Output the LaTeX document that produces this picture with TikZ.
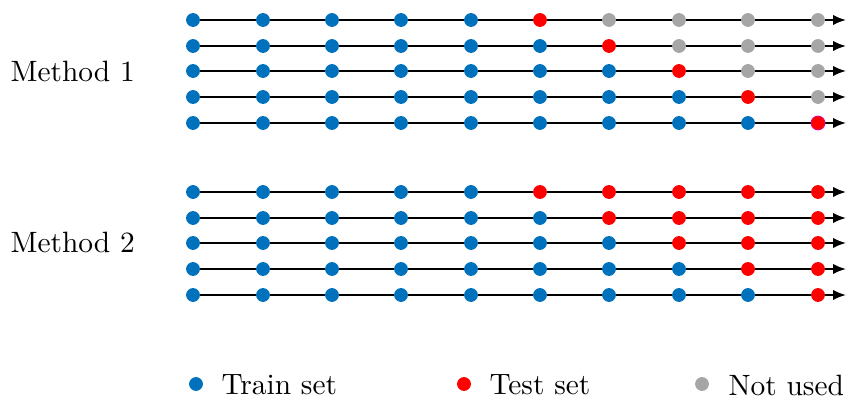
\documentclass[tikz,border=0pt]{standalone}
\usetikzlibrary{arrows.meta}
\definecolor{trainblue}{RGB}{0,114,189}
\definecolor{testred}{RGB}{255,0,0}
\definecolor{unusedgrey}{RGB}{166,166,166}
\begin{document}
\begin{tikzpicture}[x=0.34pt,y=-0.34pt,
  dot/.style={circle,inner sep=0pt,minimum size=4.7pt,draw=none},
  train/.style={dot,fill=trainblue},
  test/.style={dot,fill=testred},
  unused/.style={dot,fill=unusedgrey},
  timeline/.style={line width=0.6pt,-{Latex[length=4.4pt,width=3.5pt]}},
  lbl/.style={font=\normalsize,inner sep=0pt}]
\useasboundingbox (0,0) rectangle (847,398);
% Method 1: rolling single test point, later points unused
\foreach \r/\y in {0/20,1/46,2/71,3/97,4/123}{
  \coordinate (a\r end) at (846,\y);
  \draw[timeline] (193,\y) -- (a\r end);
  \foreach \c/\x in {0/193,1/263,2/332,3/401,4/471,5/540,6/609,7/679,8/748,9/818}{
    \pgfmathtruncatemacro{\k}{5+\r}
    \ifnum\c<\k
      \node[train] (a\r c\c) at (\x,\y) {};
    \else\ifnum\c=\k
      \ifnum\r=4
        \node[test,draw=magenta,line width=0.3pt] (a\r c\c) at (\x,\y) {};
      \else
        \node[test] (a\r c\c) at (\x,\y) {};
      \fi
    \else
      \node[unused] (a\r c\c) at (\x,\y) {};
    \fi\fi
  }
}
% Method 2: all remaining points used for testing
\foreach \r/\y in {0/192,1/218,2/243,3/269,4/295}{
  \coordinate (b\r end) at (846,\y);
  \draw[timeline] (193,\y) -- (b\r end);
  \foreach \c/\x in {0/193,1/263,2/332,3/401,4/471,5/540,6/609,7/679,8/748,9/818}{
    \pgfmathtruncatemacro{\k}{5+\r}
    \ifnum\c<\k
      \node[train] (b\r c\c) at (\x,\y) {};
    \else
      \node[test] (b\r c\c) at (\x,\y) {};
    \fi
  }
}
\node[lbl,anchor=west] (m1) at (10,71) {Method 1};
\node[lbl,anchor=west] (m2) at (10,242) {Method 2};
% legend
\node[train] (ktrain) at (196,384) {};
\node[lbl,anchor=west] (ttrain) at (221,385) {Train set};
\node[test] (ktest) at (464,384) {};
\node[lbl,anchor=west] (ttest) at (489,385) {Test set};
\node[unused] (kunused) at (702,384) {};
\node[lbl,anchor=west] (tunused) at (728,385) {Not used};
\end{tikzpicture}
\end{document}
